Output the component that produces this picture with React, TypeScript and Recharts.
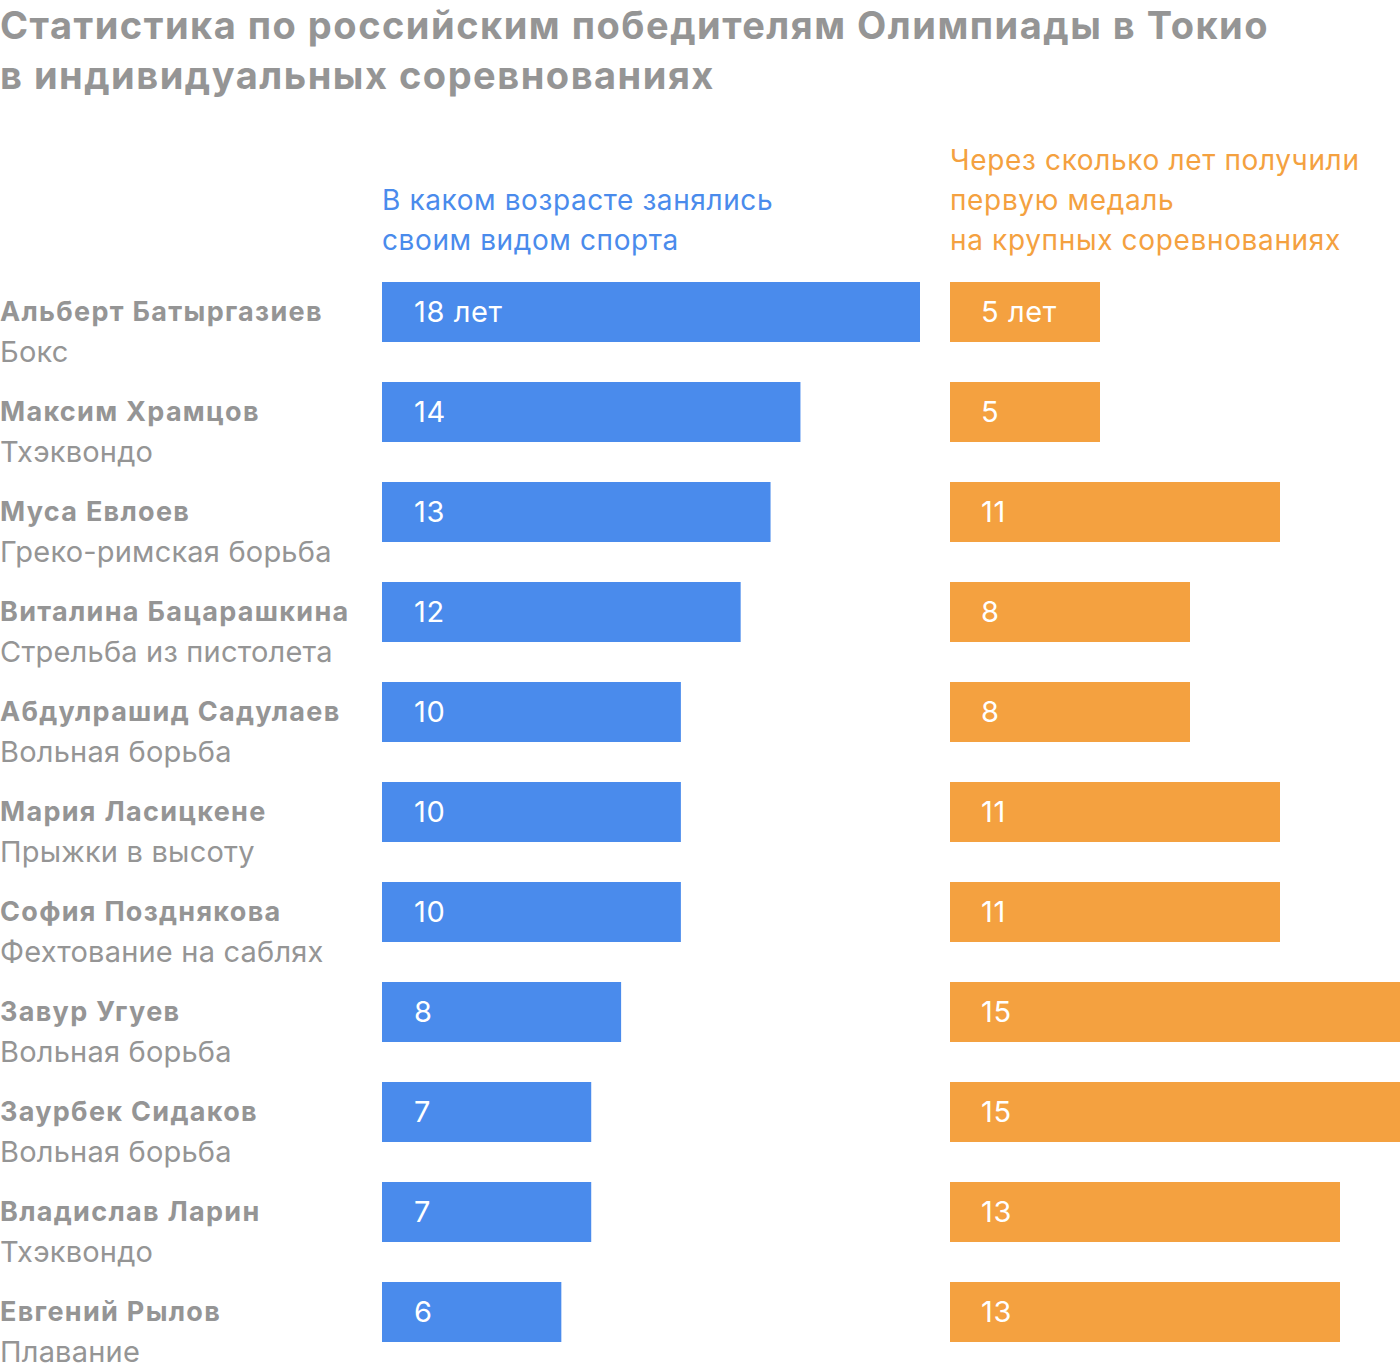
import { Bar, BarChart, LabelList, XAxis, YAxis } from "recharts";

const athletes = [
  "Альберт Батыргазиев",
  "Максим Храмцов",
  "Муса Евлоев",
  "Виталина Бацарашкина",
  "Абдулрашид Садулаев",
  "Мария Ласицкене",
  "София Позднякова",
  "Завур Угуев",
  "Заурбек Сидаков",
  "Владислав Ларин",
  "Евгений Рылов",
];

const sports = [
  "Бокс",
  "Тхэквондо",
  "Греко-римская борьба",
  "Стрельба из пистолета",
  "Вольная борьба",
  "Прыжки в высоту",
  "Фехтование на саблях",
  "Вольная борьба",
  "Вольная борьба",
  "Тхэквондо",
  "Плавание",
];

const startAge = [18, 14, 13, 12, 10, 10, 10, 8, 7, 7, 6];
const yearsToMedal = [5, 5, 11, 8, 8, 11, 11, 15, 15, 13, 13];

const FONT = "Inter, Roboto, sans-serif";
const GREY = "#959595";
const BLUE = "#4a8bec";
const ORANGE = "#f4a140";

const rows = athletes.map((name, i) => ({
  name,
  sport: sports[i],
  age: startAge[i],
  years: yearsToMedal[i],
  ageLabel: i === 0 ? `${startAge[i]} лет` : `${startAge[i]}`,
  yearsLabel: i === 0 ? `${yearsToMedal[i]} лет` : `${yearsToMedal[i]}`,
}));

const MARGIN = { top: 262, right: 0, bottom: 10, left: 0 };

function NameTick(props: any) {
  const { y, payload } = props;
  const row = rows.find((r) => r.name === payload.value);
  return (
    <g>
      <text x={0} y={y + 9} fill={GREY} fontSize={27} fontWeight={700} fontFamily={FONT} letterSpacing={1.3}>
        {payload.value}
      </text>
      <text x={0} y={y + 50} fill={GREY} fontSize={29} fontFamily={FONT} letterSpacing={0.2}>
        {row ? row.sport : ""}
      </text>
    </g>
  );
}

export default function App() {
  return (
    <div style={{ position: "absolute", left: 0, top: 0, width: 1400, height: 1372, background: "#fff", overflow: "hidden", fontFamily: FONT }}>
      <div style={{ position: "absolute", left: 0, top: 0, color: GREY, fontSize: 38, fontWeight: 700, lineHeight: "50px", letterSpacing: 1.5, whiteSpace: "nowrap" }}>
        Статистика по российским победителям Олимпиады в Токио
        <br />
        в индивидуальных соревнованиях
      </div>
      <div style={{ position: "absolute", left: 382, top: 180, color: BLUE, fontSize: 28, lineHeight: "40px", letterSpacing: 0.6, whiteSpace: "nowrap" }}>
        В каком возрасте занялись
        <br />
        своим видом спорта
      </div>
      <div style={{ position: "absolute", left: 950, top: 140, color: ORANGE, fontSize: 28, lineHeight: "40px", letterSpacing: 0.65, whiteSpace: "nowrap" }}>
        Через сколько лет получили
        <br />
        первую медаль
        <br />
        на крупных соревнованиях
      </div>

      <div style={{ position: "absolute", left: 0, top: 0 }}>
        <BarChart width={920} height={1372} data={rows} layout="vertical" margin={MARGIN} barCategoryGap="20%">
          <XAxis type="number" domain={[0, 18]} hide />
          <YAxis type="category" dataKey="name" width={382} axisLine={false} tickLine={false} tick={<NameTick />} interval={0} />
          <Bar dataKey="age" fill={BLUE} isAnimationActive={false}>
            <LabelList dataKey="ageLabel" position="insideLeft" offset={32} fill="#fff" fontSize={29} fontFamily={FONT} letterSpacing={0.6} />
          </Bar>
        </BarChart>
      </div>

      <div style={{ position: "absolute", left: 950, top: 0 }}>
        <BarChart width={450} height={1372} data={rows} layout="vertical" margin={MARGIN} barCategoryGap="20%">
          <XAxis type="number" domain={[0, 15]} hide />
          <YAxis type="category" dataKey="name" hide />
          <Bar dataKey="years" fill={ORANGE} isAnimationActive={false}>
            <LabelList dataKey="yearsLabel" position="insideLeft" offset={31} fill="#fff" fontSize={29} fontFamily={FONT} letterSpacing={0.6} />
          </Bar>
        </BarChart>
      </div>
    </div>
  );
}
